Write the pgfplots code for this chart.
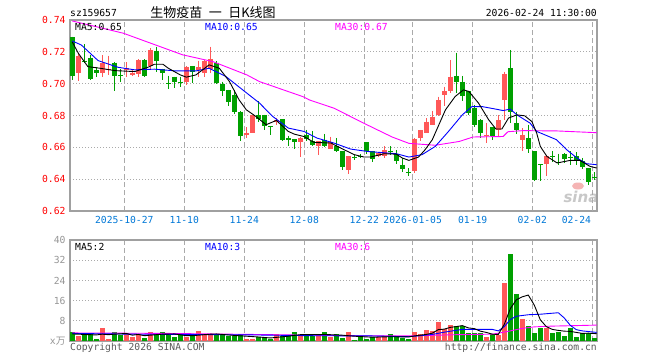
\documentclass[border=0pt]{standalone}
\usepackage{pgfplots}
\usepackage{pgfplotstable}
\pgfplotsset{compat=1.18}
\usepackage{fontspec}
\setmainfont{DejaVu Sans}
\newfontfamily\monof{DejaVu Sans Mono}
\newfontfamily\cjk{Noto Sans CJK SC}
\definecolor{cred}{RGB}{255,88,88}
\definecolor{cgreen}{RGB}{0,160,0}
\definecolor{cmag}{RGB}{255,0,255}
\definecolor{cblue}{RGB}{0,0,255}
\definecolor{framec}{RGB}{160,160,160}
\definecolor{gridc}{RGB}{170,170,170}
\definecolor{datec}{RGB}{0,120,215}
\definecolor{volc}{RGB}{150,150,150}
\definecolor{footc}{RGB}{90,90,90}
\definecolor{sinac}{RGB}{200,200,200}
\definecolor{sinap}{RGB}{245,180,180}
\newcommand\mf{\monof\fontsize{9.7bp}{11bp}\selectfont}

\pgfplotstableread{
i o h l c v
1 0.7066 0.7195 0.7019 0.7174 2.0
5 0.7070 0.7180 0.7045 0.7128 5.2
6 0.7085 0.7176 0.7055 0.7095 0.9
9 0.7085 0.7135 0.7045 0.7100 3.2
10 0.7053 0.7085 0.7050 0.7070 1.7
11 0.7062 0.7152 0.7045 0.7150 2.3
13 0.7110 0.7225 0.7088 0.7210 3.6
19 0.7013 0.7108 0.6993 0.7105 1.7
21 0.7085 0.7145 0.7045 0.7105 4.0
22 0.7070 0.7150 0.7045 0.7145 2.5
23 0.7090 0.7232 0.7066 0.7152 2.5
29 0.6680 0.6725 0.6658 0.6690 0.9
30 0.6693 0.6805 0.6688 0.6804 0.9
34 0.6757 0.6785 0.6742 0.6773 2.8
38 0.6632 0.6662 0.6540 0.6656 2.0
41 0.6610 0.6637 0.6554 0.6637 2.4
43 0.6589 0.6668 0.6589 0.6631 1.6
46 0.6460 0.6547 0.6434 0.6547 3.6
51 0.6547 0.6570 0.6540 0.6564 1.6
52 0.6548 0.6606 0.6535 0.6581 1.6
57 0.6449 0.6658 0.6440 0.6652 3.6
58 0.6658 0.6710 0.6637 0.6710 2.7
59 0.6693 0.6784 0.6688 0.6762 4.4
60 0.6742 0.6831 0.6740 0.6790 4.0
61 0.6804 0.6919 0.6794 0.6898 7.6
62 0.6930 0.6982 0.6857 0.6951 4.7
63 0.6957 0.7150 0.6940 0.7045 6.4
69 0.6672 0.6752 0.6627 0.6680 1.6
71 0.6710 0.6804 0.6668 0.6773 2.3
72 0.6898 0.7076 0.6773 0.7061 23.1
75 0.6643 0.6721 0.6575 0.6679 8.7
79 0.6497 0.6554 0.6422 0.6543 5.3
}\upT

\pgfplotstableread{
i o h l c v
0 0.7291 0.7295 0.7020 0.7049 3.6
2 0.7145 0.7248 0.7128 0.7135 2.7
3 0.7160 0.7180 0.7022 0.7028 2.7
4 0.7086 0.7105 0.7045 0.7066 0.9
7 0.7132 0.7135 0.6957 0.7049 3.6
8 0.7053 0.7090 0.7013 0.7047 2.3
12 0.7150 0.7152 0.7040 0.7051 1.2
14 0.7208 0.7233 0.7076 0.7145 2.7
15 0.7095 0.7095 0.7021 0.7066 3.6
16 0.7003 0.7050 0.6966 0.6997 2.3
17 0.7045 0.7045 0.6972 0.7013 1.6
18 0.7013 0.7045 0.6978 0.7003 2.3
20 0.7112 0.7112 0.7007 0.7076 2.7
24 0.7132 0.7143 0.7000 0.7003 2.3
25 0.6999 0.7013 0.6920 0.6951 2.3
26 0.6960 0.6962 0.6857 0.6882 1.8
27 0.6930 0.6958 0.6810 0.6825 1.9
28 0.6825 0.6826 0.6637 0.6673 2.8
31 0.6804 0.6888 0.6762 0.6777 1.7
32 0.6804 0.6805 0.6706 0.6731 1.7
33 0.6734 0.6735 0.6679 0.6728 0.9
35 0.6777 0.6778 0.6638 0.6643 2.0
36 0.6658 0.6673 0.6610 0.6644 2.0
37 0.6652 0.6653 0.6590 0.6632 3.6
39 0.6679 0.6710 0.6637 0.6652 2.8
40 0.6637 0.6704 0.6610 0.6612 2.0
42 0.6648 0.6685 0.6605 0.6610 3.6
44 0.6606 0.6660 0.6570 0.6575 2.7
45 0.6575 0.6575 0.6455 0.6474 1.3
47 0.6542 0.6552 0.6521 0.6536 0.4
48 0.6548 0.6558 0.6530 0.6542 2.0
49 0.6631 0.6631 0.6560 0.6575 0.9
50 0.6575 0.6575 0.6505 0.6527 1.6
53 0.6578 0.6606 0.6554 0.6572 2.7
54 0.6560 0.6581 0.6497 0.6512 1.6
55 0.6491 0.6533 0.6443 0.6464 1.3
56 0.6446 0.6470 0.6422 0.6440 0.9
64 0.7049 0.7195 0.6940 0.7012 6.0
65 0.7013 0.7049 0.6894 0.6924 6.0
66 0.6951 0.6955 0.6805 0.6815 3.1
67 0.6846 0.6867 0.6727 0.6742 3.1
68 0.6773 0.6775 0.6658 0.6693 3.1
70 0.6727 0.6728 0.6648 0.6673 2.7
73 0.7097 0.7212 0.6752 0.6820 34.4
74 0.6752 0.6825 0.6685 0.6706 18.8
76 0.6658 0.6742 0.6564 0.6590 6.0
77 0.6575 0.6575 0.6386 0.6397 3.3
78 0.6493 0.6494 0.6386 0.6487 5.3
80 0.6546 0.6575 0.6505 0.6540 3.3
81 0.6508 0.6560 0.6491 0.6502 3.6
82 0.6560 0.6562 0.6502 0.6527 2.0
83 0.6542 0.6575 0.6491 0.6536 5.3
84 0.6543 0.6570 0.6491 0.6518 1.6
85 0.6512 0.6533 0.6467 0.6474 3.0
86 0.6470 0.6470 0.6366 0.6380 3.3
87 0.6416 0.6443 0.6397 0.6410 1.2
}\downT

\pgfplotsset{
  kbase/.style={
    scale only axis, width=527bp,
    xmin=-0.383, xmax=87.45,
    axis line style={draw=framec, line width=1.2bp},
    major tick length=0pt,
    xmajorgrids, ymajorgrids,
    x grid style={draw=gridc, line width=1bp, dash pattern=on 5bp off 3bp},
    y grid style={draw=gridc, line width=0.9bp, dash pattern=on 1bp off 2bp},
    yticklabel style={font=\mf, anchor=east, inner sep=0pt, xshift=-4.3bp},
    anchor=north west,
  },
  wick/.style={draw=none, mark=none, forget plot,
    error bars/.cd, y dir=both, y explicit, error mark=none,
    error bar style={line width=1bp, draw=#1, solid}},
  body/.style={draw=none, mark=none, forget plot,
    error bars/.cd, y dir=both, y explicit, error mark=none,
    error bar style={line width=5bp, draw=#1, solid}},
}

\begin{document}
\begin{tikzpicture}
\useasboundingbox[fill=white] (0bp,0bp) rectangle (660bp,-360bp);

% sina watermark (behind the data)
\node[inner sep=0pt, font=\bfseries\itshape\fontsize{15bp}{16bp}\selectfont, text=sinac] at (581bp,-197bp) {sina};
\fill[sinap] (578bp,-186bp) ellipse (6bp and 3.5bp);

% ---------------- price panel ----------------
\begin{axis}[kbase, at={(70bp,-20bp)}, height=191bp,
  ymin=0.62, ymax=0.74,
  ytick={0.62,0.64,0.66,0.68,0.70,0.72,0.74},
  yticklabels={0.62,0.64,0.66,0.68,0.70,0.72,0.74},
  yticklabel style={text=red},
  xtick={8.67,18.67,28.67,38.67,48.67,56.73,66.73,76.67},
  xticklabels={2025-10-27,11-10,11-24,12-08,12-22,2026-01-05,01-19,02-02},
  xticklabel style={font=\mf, text=datec, anchor=north, inner sep=0pt, yshift=-5.5bp},
  extra x ticks={86.73}, extra x tick labels={02-24},
  extra x tick style={xmajorgrids=true, xticklabel style={anchor=north east, xshift=-1.5bp}},
]
% candles: wicks
\addplot[wick=cred] table[x=i, y=h, y error plus expr=0, y error minus expr=\thisrow{h}-\thisrow{l}] {\upT};
\addplot[wick=cgreen] table[x=i, y=h, y error plus expr=0, y error minus expr=\thisrow{h}-\thisrow{l}] {\downT};
% candles: bodies
\addplot[body=cred] table[x=i, y=c, y error plus expr=0, y error minus expr=\thisrow{c}-\thisrow{o}] {\upT};
\addplot[body=cgreen] table[x=i, y=o, y error plus expr=0, y error minus expr=\thisrow{o}-\thisrow{c}] {\downT};
% MA30
\addplot[cmag, line width=0.9bp] coordinates {(0,0.7394) (8.5,0.7317) (18.4,0.7181) (23.4,0.7139) (29.1,0.7055) (31.2,0.7013) (38.4,0.6919) (39.5,0.6898) (43.6,0.6846) (49.1,0.6742) (53.3,0.6665) (56.1,0.6625) (60.5,0.6613) (64.5,0.6637) (66.8,0.6665) (71.8,0.6668) (72.6,0.6698) (75.1,0.6705) (80.8,0.6703) (87.4,0.6692)};
% MA10
\addplot[cblue, line width=0.9bp] coordinates {(0,0.7268) (1.5,0.7243) (4.3,0.7145) (7.6,0.7103) (10.4,0.7087) (13.7,0.7091) (17.3,0.7080) (20.6,0.7080) (22.8,0.7097) (25.6,0.7045) (28.4,0.6961) (31.2,0.6878) (33.4,0.6794) (36,0.6721) (38.6,0.6700) (40.8,0.6658) (43.6,0.6627) (46.4,0.6589) (49.2,0.6574) (54,0.6560) (56.1,0.6539) (58.3,0.6554) (60.5,0.6606) (62.7,0.6700) (65,0.6804) (66.6,0.6856) (68.3,0.6856) (70.6,0.6840) (71.8,0.6831) (73,0.6840) (74.1,0.6804) (76.3,0.6752) (77.4,0.6700) (80.7,0.6648) (82.4,0.6585) (84.1,0.6533) (85.7,0.6497) (87.4,0.6491)};
% MA5
\addplot[black, line width=0.9bp] coordinates {(0,0.7262) (1,0.7191) (2.6,0.7107) (4.6,0.7097) (7.1,0.7082) (10.4,0.7076) (12.6,0.7103) (13.7,0.7122) (15.1,0.7122) (16,0.7097) (18,0.7055) (19,0.7041) (20.6,0.7055) (22.8,0.7118) (24.5,0.7097) (26.2,0.7013) (27.8,0.6898) (29,0.6836) (30.6,0.6794) (32.3,0.6742) (34,0.6769) (36,0.6700) (37,0.6683) (38.6,0.6668) (40.3,0.6631) (43.1,0.6627) (44.7,0.6596) (47,0.6554) (48.6,0.6539) (49.7,0.6539) (52,0.6560) (54,0.6557) (55,0.6533) (56.1,0.6518) (57.7,0.6539) (58.8,0.6585) (60,0.6648) (61.1,0.6742) (62.2,0.6836) (63.8,0.6919) (65.2,0.6961) (66.1,0.6951) (67.7,0.6878) (69.4,0.6773) (70.6,0.6715) (71.6,0.6715) (72.7,0.6784) (74.1,0.6804) (75.4,0.6798) (76.6,0.6762) (77.4,0.6689) (78,0.6606) (79.1,0.6543) (80.8,0.6502) (83,0.6518) (84.6,0.6518) (86.3,0.6480) (87.4,0.6470)};
\end{axis}

% ---------------- volume panel ----------------
\begin{axis}[kbase, at={(70bp,-240bp)}, height=101bp,
  ymin=0, ymax=40,
  ytick={0,8,16,24,32,40},
  yticklabels={{x{\cjk 万}},8,16,24,32,40},
  yticklabel style={text=volc},
  xtick={8.67,18.67,28.67,38.67,48.67,56.73,66.73,76.67,86.73},
  xticklabels={},
]
\addplot[ycomb, cred, line width=5bp, forget plot] table[x=i, y=v] {\upT};
\addplot[ycomb, cgreen, line width=5bp, forget plot] table[x=i, y=v] {\downT};
% VMA30
\addplot[cmag, line width=0.9bp] coordinates {(0,3.2) (16,3.0) (30,2.6) (47,2.1) (56,2.0) (64,2.5) (70,2.7) (71.5,3.3) (73,4.0) (75,5.0) (77,5.6) (80,5.9) (84,6.1) (87.4,6.3)};
% VMA10
\addplot[cblue, line width=0.9bp] coordinates {(0,3.0) (10,2.7) (20,2.6) (30,2.4) (40,2.1) (50,2.0) (56,1.7) (58,2.1) (60,2.6) (62,3.5) (65,4.6) (70,4.6) (71,4.0) (72,5.7) (73,8.5) (74,9.8) (76,10.4) (78,10.6) (81,11.2) (82,9.1) (83,6.2) (84,4.5) (85,4.0) (87.4,3.4)};
% VMA5
\addplot[black, line width=0.9bp] coordinates {(0,2.8) (4,2.4) (5,2.7) (6,2.5) (7,2.7) (9,3.0) (10,2.3) (11,2.6) (12,2.1) (15,2.7) (17,2.8) (19,2.1) (20,2.1) (23,2.7) (24,2.8) (27,2.2) (29,1.9) (31,1.6) (33,1.2) (36,1.9) (38,2.5) (42,2.6) (45,2.3) (47,1.9) (50,1.5) (53,1.7) (56,1.6) (57,2.0) (59,2.6) (60,3.1) (61,4.5) (62,4.7) (63,5.4) (64,5.7) (65,6.1) (66,5.2) (67,4.9) (68,3.9) (69,3.4) (70,2.7) (71,2.6) (72,6.6) (73,12.8) (74,16.3) (75,17.5) (76,18.2) (77,14.2) (78,8.4) (79,5.7) (80,4.6) (81,4.2) (82,3.9) (83,3.8) (84,3.4) (85,3.0) (86,3.1) (87.4,2.9)};
\end{axis}

% ---------------- texts ----------------
\node[anchor=west, inner sep=0pt, font=\mf] at (70bp,-13bp) {sz159657};
\node[anchor=center, inner sep=0pt, font=\cjk\fontsize{13bp}{14bp}\selectfont] at (213bp,-13bp) {生物疫苗\hspace{6.5bp}一\hspace{6.5bp}日K线图};
\node[anchor=east, inner sep=0pt, font=\mf] at (597bp,-13bp) {2026-02-24 11:30:00};

\node[anchor=west, inner sep=0pt, font=\mf, text=black] at (75bp,-27bp) {MA5:0.65};
\node[anchor=west, inner sep=0pt, font=\mf, text=cblue] at (205bp,-27bp) {MA10:0.65};
\node[anchor=west, inner sep=0pt, font=\mf, text=cmag] at (335bp,-27bp) {MA30:0.67};

\node[anchor=west, inner sep=0pt, font=\mf, text=black] at (75bp,-247bp) {MA5:2};
\node[anchor=west, inner sep=0pt, font=\mf, text=cblue] at (205bp,-247bp) {MA10:3};
\node[anchor=west, inner sep=0pt, font=\mf, text=cmag] at (335bp,-247bp) {MA30:6};

\node[anchor=west, inner sep=0pt, font=\mf, text=footc] at (70bp,-348bp) {Copyright 2026 SINA.COM};
\node[anchor=east, inner sep=0pt, font=\mf, text=footc] at (597bp,-348bp) {http://finance.sina.com.cn};
\end{tikzpicture}
\end{document}
